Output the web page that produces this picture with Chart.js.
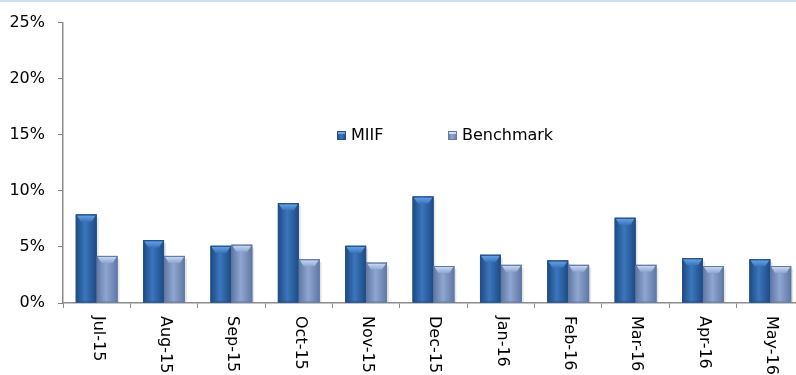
<!DOCTYPE html>
<html>
<head>
<meta charset="utf-8">
<script src="https://cdn.jsdelivr.net/npm/chart.js@4/dist/chart.umd.min.js"></script>
<style>
  html, body { margin: 0; padding: 0; background: #fff; overflow: hidden; }
  #wrap { position: relative; width: 812px; height: 375px; }
</style>
</head>
<body>
<div id="wrap"><canvas id="c" width="812" height="375"></canvas></div>
<script>
// Monthly figures, percent
const months = ['Jul-15', 'Aug-15', 'Sep-15', 'Oct-15', 'Nov-15', 'Dec-15',
                'Jan-16', 'Feb-16', 'Mar-16', 'Apr-16', 'May-16'];
const miif      = [7.9, 5.6, 5.1, 8.9, 5.1, 9.5, 4.3, 3.8, 7.6, 4.0, 3.9];
const benchmark = [4.2, 4.2, 5.2, 3.9, 3.6, 3.3, 3.4, 3.4, 3.4, 3.3, 3.3];
const yTicks    = [0, 5, 10, 15, 20, 25];

const FONT = '"DejaVu Sans", Verdana, sans-serif';

// colour sets per series: edge, mid, cap highlight
const shades = [
  { base: '#2d63a6', edge: '#1d4a82', mid: '#3b76bd', cap: '#6aa8ea', border: '#244f86' },
  { base: '#7a92bf', edge: '#5f77a3', mid: '#8ea6d0', cap: '#cfe0f7', border: '#647aa3' }
];

function hGrad(ctx, left, right, s) {
  const g = ctx.createLinearGradient(left, 0, right, 0);
  g.addColorStop(0, s.edge);
  g.addColorStop(0.45, s.mid);
  g.addColorStop(1, s.edge);
  return g;
}

// page frame: white fill and thin blue rule along the top
const frame = {
  id: 'frame',
  beforeDraw(chart) {
    const ctx = chart.ctx;
    ctx.save();
    ctx.fillStyle = '#ffffff';
    ctx.fillRect(0, 0, chart.width, chart.height);
    ctx.fillStyle = '#cde0f1';
    ctx.fillRect(0, 0, chart.width, 2);
    ctx.restore();
  }
};

// bevelled look for each bar
const bevel = {
  id: 'bevel',
  afterDatasetsDraw(chart) {
    const ctx = chart.ctx;
    chart.data.datasets.forEach((ds, di) => {
      const s = shades[di];
      chart.getDatasetMeta(di).data.forEach(bar => {
        const p = bar.getProps(['x', 'y', 'base', 'width'], true);
        const left = p.x - p.width / 2, right = p.x + p.width / 2;
        const top = p.y, bottom = p.base;
        ctx.save();
        // soft shadow to the right
        ctx.fillStyle = 'rgba(0,0,0,0.10)';
        ctx.fillRect(right, top + 3, 2, bottom - top - 3);
        // body
        ctx.fillStyle = hGrad(ctx, left, right, s);
        ctx.fillRect(left, top, p.width, bottom - top);
        // top cap
        const capH = Math.min(7, (bottom - top) / 2);
        const cg = ctx.createLinearGradient(0, top, 0, top + capH);
        cg.addColorStop(0, s.cap);
        cg.addColorStop(1, s.mid);
        ctx.fillStyle = cg;
        ctx.beginPath();
        ctx.moveTo(left + 1, top + 1);
        ctx.lineTo(right - 1, top + 1);
        ctx.lineTo(right - 5, top + capH);
        ctx.lineTo(left + 5, top + capH);
        ctx.closePath();
        ctx.fill();
        // outline
        ctx.strokeStyle = s.border;
        ctx.lineWidth = 1;
        ctx.strokeRect(left + 0.5, top + 0.5, p.width - 1, bottom - top - 1);
        ctx.restore();
      });
    });
  }
};

// month labels reading downward under each category
const monthLabels = {
  id: 'monthLabels',
  afterDraw(chart) {
    const xs = chart.scales.x;
    const ctx = chart.ctx;
    ctx.save();
    ctx.font = '16px ' + FONT;
    ctx.fillStyle = '#000';
    ctx.textAlign = 'left';
    ctx.textBaseline = 'middle';
    chart.data.labels.forEach((lab, i) => {
      const x = xs.getPixelForTick(i);
      ctx.save();
      ctx.translate(x + 1, xs.top + 13);
      ctx.rotate(Math.PI / 2);
      ctx.fillText(lab, 0, 0);
      ctx.restore();
    });
    ctx.restore();
  }
};

// legend placed inside the plot
const innerLegend = {
  id: 'innerLegend',
  afterDraw(chart) {
    const ctx = chart.ctx;
    const items = [
      { x: 337, text: chart.data.datasets[0].label, s: shades[0] },
      { x: 448, text: chart.data.datasets[1].label, s: shades[1] }
    ];
    const y = 136;
    ctx.save();
    ctx.font = '16px ' + FONT;
    ctx.textBaseline = 'middle';
    ctx.textAlign = 'left';
    items.forEach(it => {
      ctx.fillStyle = hGrad(ctx, it.x, it.x + 9, it.s);
      ctx.fillRect(it.x, y - 5, 9, 9);
      ctx.fillStyle = it.s.cap;
      ctx.fillRect(it.x + 1, y - 4, 7, 2);
      ctx.strokeStyle = it.s.border;
      ctx.lineWidth = 1;
      ctx.strokeRect(it.x + 0.5, y - 4.5, 8, 8);
      ctx.fillStyle = '#000';
      ctx.fillText(it.text, it.x + 14, y);
    });
    ctx.restore();
  }
};

new Chart(document.getElementById('c'), {
  type: 'bar',
  data: {
    labels: months,
    datasets: [
      { label: 'MIIF', data: miif, backgroundColor: shades[0].base, borderWidth: 0,
        categoryPercentage: 0.62, barPercentage: 1 },
      { label: 'Benchmark', data: benchmark, backgroundColor: shades[1].base, borderWidth: 0,
        categoryPercentage: 0.62, barPercentage: 1 }
    ]
  },
  options: {
    responsive: false,
    animation: false,
    layout: { padding: { top: 17, right: 8, left: 0, bottom: 0 } },
    plugins: { legend: { display: false }, tooltip: { enabled: false } },
    scales: {
      x: {
        offset: true,
        grid: { offset: true, drawOnChartArea: false, drawTicks: true, tickLength: 5,
                color: '#8c8c8c', lineWidth: 1 },
        border: { display: true, color: '#8c8c8c', width: 1.5 },
        ticks: { display: false },
        afterFit(s) { s.height = 72; }
      },
      y: {
        min: 0, max: 25,
        afterBuildTicks(s) { s.ticks = yTicks.map(v => ({ value: v })); },
        grid: { drawOnChartArea: false, drawTicks: true, tickLength: 5, color: '#7f7f7f', lineWidth: 1 },
        border: { display: true, color: '#8c8c8c', width: 1.5 },
        ticks: {
          padding: 13,
          color: '#000',
          font: { family: FONT, size: 16 },
          callback: v => v + '%'
        },
        afterFit(s) { s.width = 63; }
      }
    }
  },
  plugins: [frame, bevel, monthLabels, innerLegend]
});
</script>
</body>
</html>
